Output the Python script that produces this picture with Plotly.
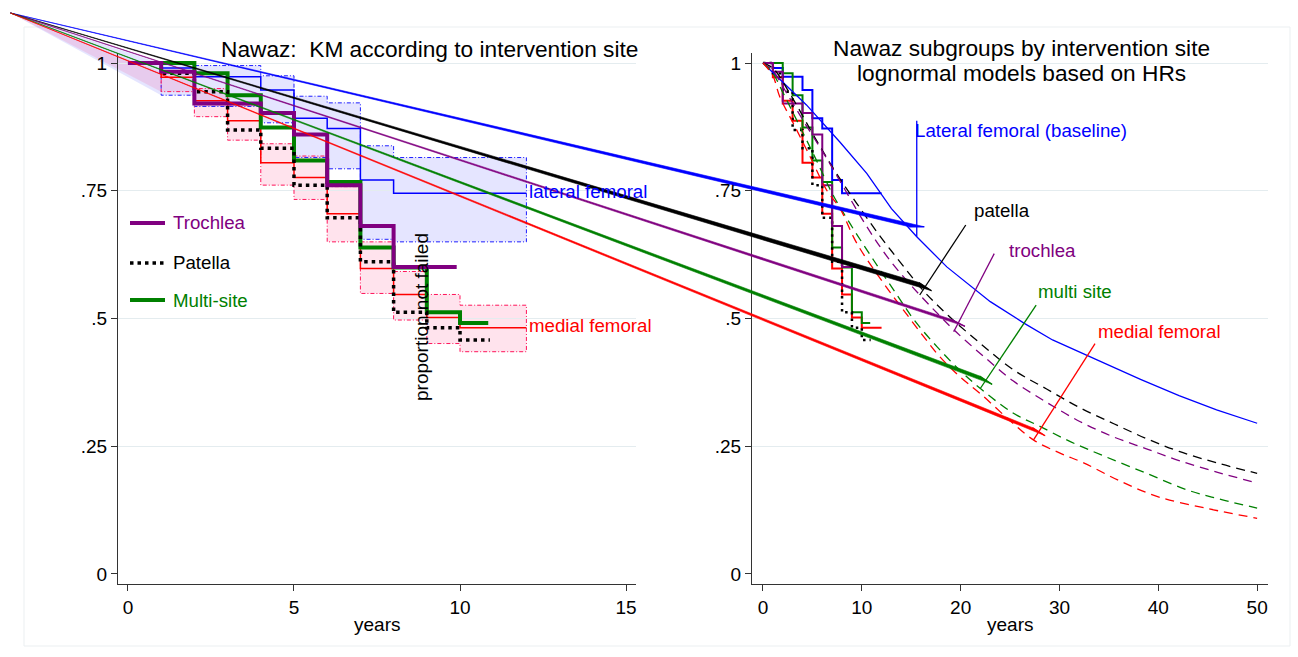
import plotly.graph_objects as go

W, H = 1298, 657

# ---------------- data ----------------
# Kaplan-Meier estimates by intervention site (step change times, years)
lat_t  = [0, 1, 2, 4, 5, 6, 7, 8, 12]
lat_s  = [1.0, 0.990, 0.973, 0.947, 0.892, 0.872, 0.771, 0.745]
lat_hi = [1.0, 0.999, 0.995, 0.975, 0.935, 0.922, 0.838, 0.815]
lat_lo = [1.0, 0.937, 0.915, 0.883, 0.815, 0.793, 0.655, 0.650]

med_t  = [0, 1, 2, 3, 4, 5, 6, 7, 8, 9, 10, 12]
med_s  = [1.0, 0.972, 0.926, 0.887, 0.805, 0.776, 0.705, 0.598, 0.547, 0.502, 0.482]
med_hi = [1.0, 0.982, 0.950, 0.918, 0.842, 0.818, 0.758, 0.650, 0.592, 0.547, 0.526]
med_lo = [1.0, 0.944, 0.895, 0.849, 0.761, 0.733, 0.650, 0.549, 0.497, 0.451, 0.435]

tro_t = [0, 1, 2, 4, 5, 6, 7, 8, 9.9]
tro_s = [1.0, 0.983, 0.921, 0.902, 0.860, 0.761, 0.681, 0.601]

pat_t = [0, 1, 2, 3, 4, 5, 6, 7, 8, 9, 10, 10.9]
pat_s = [1.0, 0.980, 0.944, 0.869, 0.833, 0.761, 0.697, 0.611, 0.512, 0.482, 0.458]

mul_t = [0, 2, 3, 4, 5, 6, 7, 8, 9, 10, 10.85]
mul_s = [1.0, 0.980, 0.937, 0.874, 0.809, 0.767, 0.639, 0.600, 0.512, 0.491]

# lognormal model curves (right panel)
lat_m_t = [0, 2, 4.4, 7.8, 10.5, 13.0, 15.56, 18.6, 23.0, 26.4, 29.3, 33.8, 38.2, 42.1, 45.9, 50]
lat_m_s = [1, 0.963, 0.918, 0.845, 0.784, 0.715, 0.660, 0.601, 0.533, 0.491, 0.458, 0.419, 0.381, 0.349, 0.321, 0.295]

pat_m_t = [0, 1, 2.7, 5.4, 7.5, 9.5, 11.7, 13.9, 16.2, 18.8, 22.0, 25.3, 28.7, 32.1, 35.5, 38.8, 42.1, 46, 50]
pat_m_s = [1, 0.99, 0.941, 0.849, 0.782, 0.725, 0.665, 0.61, 0.555, 0.505, 0.451, 0.40, 0.362, 0.325, 0.294, 0.265, 0.24, 0.217, 0.197]

tro_m_t = [0, 1, 2.4, 4.4, 6.4, 8.3, 10.5, 12.8, 15.3, 17.9, 19.3, 20.6, 22.5, 25.3, 28.7, 32.1, 35.5, 38.8, 42.1, 46, 50]
tro_m_s = [1, 0.985, 0.941, 0.877, 0.815, 0.752, 0.68, 0.615, 0.558, 0.505, 0.478, 0.455, 0.423, 0.378, 0.336, 0.298, 0.268, 0.245, 0.222, 0.199, 0.178]

mul_m_t = [0, 1, 2.05, 3.75, 5.4, 7.0, 8.8, 11.2, 13.5, 15.3, 17.6, 20, 22.0, 25.3, 27.9, 31.1, 34.6, 38.8, 43, 46.5, 50]
mul_m_s = [1, 0.98, 0.941, 0.875, 0.81, 0.745, 0.686, 0.614, 0.548, 0.497, 0.445, 0.397, 0.363, 0.315, 0.29, 0.259, 0.23, 0.197, 0.164, 0.145, 0.129]

med_m_t = [0, 1, 1.7, 3.07, 4.76, 6.45, 7.8, 9.5, 12.2, 14.2, 16.2, 17.9, 20, 22.05, 25, 27.4, 30, 32.5, 36, 40, 45, 50]
med_m_s = [1, 0.975, 0.934, 0.882, 0.817, 0.751, 0.715, 0.647, 0.569, 0.517, 0.466, 0.425, 0.385, 0.352, 0.30, 0.262, 0.237, 0.217, 0.183, 0.151, 0.128, 0.109]

# arrows in the right panel: (years, proportion) from label to curve
arrow_from = [(15.56, 0.887), (20.52, 0.683), (23.4, 0.627), (27.64, 0.526), (33.6, 0.451)]
arrow_to   = [(15.56, 0.660), (15.86, 0.546), (19.3, 0.474), (21.99, 0.363), (27.36, 0.262)]
arrow_col  = ['#0000FF', '#000000', '#800080', '#008000', '#FF0000']
right_labels = ['Lateral femoral (baseline)', 'patella', 'trochlea', 'multi site', 'medial femoral']
right_label_pos = [(15.18, 0.867), (21.15, 0.712), (24.69, 0.634), (27.63, 0.552), (33.7, 0.474)]

left_labels = ['lateral femoral', 'medial femoral']
left_label_pos = [(12.02, 0.749), (12.02, 0.487)]
left_label_col = ['#0000FF', '#FF0000']

legend_names = ['Trochlea', 'Patella', 'Multi-site']

x_ticks_left = [0, 5, 10, 15]
x_ticks_right = [0, 10, 20, 30, 40, 50]
y_ticks = [0, 0.25, 0.5, 0.75, 1]
y_tick_text = ['0', '.25', '.5', '.75', '1']

# ---------------- layout geometry ----------------
FONT = 'Liberation Sans, Arial, sans-serif'
LP = (118, 636)   # left panel x extent (px)
RP = (752, 1268)  # right panel x extent (px)
PY = (53, 584)    # panels y extent (px, top, bottom)
L_XR = [-0.3, 15.3]
R_XR = [-1.11, 51.1]
YR = [-0.0196, 1.0196]
CORNER = (10.5, 13.0)  # px


def to_px(t, s, xp, xr):
    px = xp[0] + (t - xr[0]) / (xr[1] - xr[0]) * (xp[1] - xp[0])
    py = PY[1] - (s - YR[0]) / (YR[1] - YR[0]) * (PY[1] - PY[0])
    return px, py


def from_px(px, py, xp, xr):
    t = xr[0] + (px - xp[0]) / (xp[1] - xp[0]) * (xr[1] - xr[0])
    s = YR[0] + (PY[1] - py) / (PY[1] - PY[0]) * (YR[1] - YR[0])
    return t, s


def full_ranges(xp, xr):
    x0, _ = from_px(0, 0, xp, xr)
    x1, _ = from_px(W, 0, xp, xr)
    _, y0 = from_px(0, H, xp, xr)
    _, y1 = from_px(0, 0, xp, xr)
    return [x0, x1], [y0, y1]


def step_pts(t, s, start=0):
    xs, ys = [], []
    for i in range(start, len(s)):
        xs += [t[i], t[i + 1]]
        ys += [s[i], s[i]]
    return xs, ys


def km_xy(t, s):
    return list(t), list(s) + [s[-1]]


fig = go.Figure()

# ---- background full-figure axes (left-panel units): CI fills ----
ci_sets = [(lat_t, lat_hi, lat_lo, 'rgba(0,0,255,0.10)', 'rgb(30,30,255)'),
           (med_t, med_hi, med_lo, 'rgba(255,0,90,0.11)', 'rgb(255,20,90)')]
cL = from_px(CORNER[0], CORNER[1], LP, L_XR)
for t, hi, lo, fillc, linec in ci_sets:
    ux, uy = step_pts(t, hi, 1)
    lx, ly = step_pts(t, lo, 1)
    px = [cL[0]] + ux + lx[::-1] + [cL[0]]
    py = [cL[1]] + uy + ly[::-1] + [cL[1]]
    fig.add_trace(go.Scatter(x=px, y=py, mode='lines', fill='toself', fillcolor=fillc,
                             line=dict(width=0), xaxis='x', yaxis='y', hoverinfo='skip'))

# ---- left panel ----
for t, hi, lo, fillc, linec in ci_sets:
    ux, uy = step_pts(t, hi, 1)
    lx, ly = step_pts(t, lo, 1)
    fig.add_trace(go.Scatter(x=ux + lx[::-1] + [ux[0]], y=uy + ly[::-1] + [uy[0]], mode='lines',
                             line=dict(color=linec, width=1, dash='4px,2px,1px,2px'),
                             xaxis='x2', yaxis='y2', hoverinfo='skip'))

for t, s, c, w, d in [(lat_t, lat_s, '#0000FF', 1.5, 'solid'),
                      (med_t, med_s, '#FF0000', 1.5, 'solid'),
                      (mul_t, mul_s, '#008000', 4, 'solid'),
                      (pat_t, pat_s, '#000000', 3.5, '3.5px,4px'),
                      (tro_t, tro_s, '#800080', 4, 'solid')]:
    x, y = km_xy(t, s)
    fig.add_trace(go.Scatter(x=x, y=y, mode='lines', line=dict(color=c, width=w, dash=d, shape='hv'),
                             xaxis='x2', yaxis='y2', hoverinfo='skip'))

# ---- right panel ----
for t, s, c, w, d in [(lat_t, lat_s, '#0000FF', 2, 'solid'),
                      (med_t, med_s, '#FF0000', 2, 'solid'),
                      (mul_t, mul_s, '#008000', 2, 'solid'),
                      (pat_t, pat_s, '#000000', 2.5, '2.5px,4px'),
                      (tro_t, tro_s, '#800080', 2, 'solid')]:
    x, y = km_xy(t, s)
    fig.add_trace(go.Scatter(x=x, y=y, mode='lines', line=dict(color=c, width=w, dash=d, shape='hv'),
                             xaxis='x3', yaxis='y3', hoverinfo='skip'))

fig.add_trace(go.Scatter(x=lat_m_t, y=lat_m_s, mode='lines', line=dict(color='#0000FF', width=1.3),
                         xaxis='x3', yaxis='y3', hoverinfo='skip'))
for t, s, c in [(pat_m_t, pat_m_s, '#000000'), (tro_m_t, tro_m_s, '#800080'),
                (mul_m_t, mul_m_s, '#008000'), (med_m_t, med_m_s, '#FF0000')]:
    fig.add_trace(go.Scatter(x=t, y=s, mode='lines', line=dict(color=c, width=1.3, dash='9px,6px', shape='spline'),
                             xaxis='x3', yaxis='y3', hoverinfo='skip'))

# ---- foreground full-figure axes (right-panel units): arrows ----
cR = from_px(CORNER[0], CORNER[1], RP, R_XR)
for (f, to, c) in zip(arrow_from, arrow_to, arrow_col):
    p0 = to_px(f[0], f[1], RP, R_XR)
    p1 = to_px(to[0], to[1], RP, R_XR)
    dx, dy = p1[0] - p0[0], p1[1] - p0[1]
    ln = (dx * dx + dy * dy) ** 0.5
    ux, uy = dx / ln, dy / ln
    cx, cy = p1[0] - 10 * ux, p1[1] - 10 * uy
    b1 = from_px(cx - 7.5 * uy, cy + 7.5 * ux, RP, R_XR)
    b2 = from_px(cx + 7.5 * uy, cy - 7.5 * ux, RP, R_XR)
    fig.add_trace(go.Scatter(x=[cR[0], b1[0], b2[0], cR[0]], y=[cR[1], b1[1], b2[1], cR[1]],
                             mode='lines', fill='toself', fillcolor=c, line=dict(color=c, width=0.6),
                             xaxis='x4', yaxis='y4', hoverinfo='skip'))
    fig.add_trace(go.Scatter(x=[f[0], to[0]], y=[f[1], to[1]], mode='lines', line=dict(color=c, width=1.3),
                             xaxis='x4', yaxis='y4', hoverinfo='skip'))
    fig.add_trace(go.Scatter(x=[b1[0], b2[0]], y=[b1[1], b2[1]], mode='lines', line=dict(color=c, width=1.3),
                             xaxis='x4', yaxis='y4', hoverinfo='skip'))

# ---- axes ----
bgx, bgy = full_ranges(LP, L_XR)
fgx, fgy = full_ranges(RP, R_XR)
ydom = [1 - PY[1] / H, 1 - PY[0] / H]

axis_common = dict(showline=True, linecolor='#333333', linewidth=1.2, ticks='outside', ticklen=6,
                   tickwidth=1.2, tickcolor='#333333', showgrid=False, zeroline=False,
                   tickfont=dict(family=FONT, size=19, color='black'), fixedrange=True)
yaxis_common = dict(axis_common, tickvals=y_ticks, ticktext=y_tick_text, tickangle=0,
                    minor=dict(tickmode='array', tickvals=[0.25, 0.5, 0.75, 1], showgrid=True,
                               gridcolor='#E4ECEF', gridwidth=1, ticks=''))

fig.update_layout(
    width=W, height=H, margin=dict(l=0, r=0, t=0, b=0),
    paper_bgcolor='white', plot_bgcolor='rgba(0,0,0,0)', showlegend=False,
    xaxis=dict(domain=[0, 1], range=bgx, visible=False, fixedrange=True),
    yaxis=dict(domain=[0, 1], range=bgy, visible=False, fixedrange=True),
    xaxis2=dict(axis_common, domain=[LP[0] / W, LP[1] / W], range=L_XR, anchor='y2', tickvals=x_ticks_left),
    yaxis2=dict(yaxis_common, domain=ydom, range=YR, anchor='x2'),
    xaxis3=dict(axis_common, domain=[RP[0] / W, RP[1] / W], range=R_XR, anchor='y3', tickvals=x_ticks_right),
    yaxis3=dict(yaxis_common, domain=ydom, range=YR, anchor='x3'),
    xaxis4=dict(domain=[0, 1], range=fgx, visible=False, fixedrange=True),
    yaxis4=dict(domain=[0, 1], range=fgy, visible=False, fixedrange=True),
)

ann = []
def txt(x, y, s, size=18.7, color='black', xanchor='center', xref='paper', yref='paper', angle=0):
    ann.append(dict(x=x, y=y, text=s, showarrow=False, xref=xref, yref=yref, xanchor=xanchor,
                    yanchor='middle', textangle=angle, font=dict(family=FONT, size=size, color=color)))

txt(429 / W, 1 - 49 / H, 'Nawaz:  KM according to intervention site', size=22.7)
txt(1021 / W, 1 - 48 / H, 'Nawaz subgroups by intervention site', size=22.7)
txt(1021 / W, 1 - 73 / H, 'lognormal models based on HRs', size=22.7)
txt(377 / W, 1 - 624 / H, 'years', size=19)
txt(1010 / W, 1 - 624 / H, 'years', size=19)
txt(421 / W, 1 - 317 / H, 'proportion not failed', size=19, angle=-90)
for s, (x, y), c in zip(left_labels, left_label_pos, left_label_col):
    txt(x, y, s, color=c, xanchor='left', xref='x2', yref='y2')
for s, (x, y), c in zip(right_labels, right_label_pos, arrow_col):
    txt(x, y, s, color=c, xanchor='left', xref='x4', yref='y4')

shapes = [dict(type='rect', xref='paper', yref='paper', x0=24 / W, x1=1290 / W, y0=1 - 646 / H, y1=1 - 27 / H,
               line=dict(color='#EBEFF1', width=1), layer='below')]
leg_style = [('#800080', 4, 'solid'), ('#000000', 3.5, '3.5px,4px'), ('#008000', 4, 'solid')]
leg_y = [223, 263, 300]
for name, (c, w, d), yy in zip(legend_names, leg_style, leg_y):
    shapes.append(dict(type='line', xref='paper', yref='paper', x0=130 / W, x1=165 / W,
                       y0=1 - yy / H, y1=1 - yy / H, line=dict(color=c, width=w, dash=d)))
    txt(171 / W, 1 - yy / H, name, color=c, xanchor='left')

fig.update_layout(annotations=ann, shapes=shapes)

fig.write_html("out.html", config={'displayModeBar': False},
               post_script="document.body.style.margin='0';document.body.style.overflow='hidden';")
